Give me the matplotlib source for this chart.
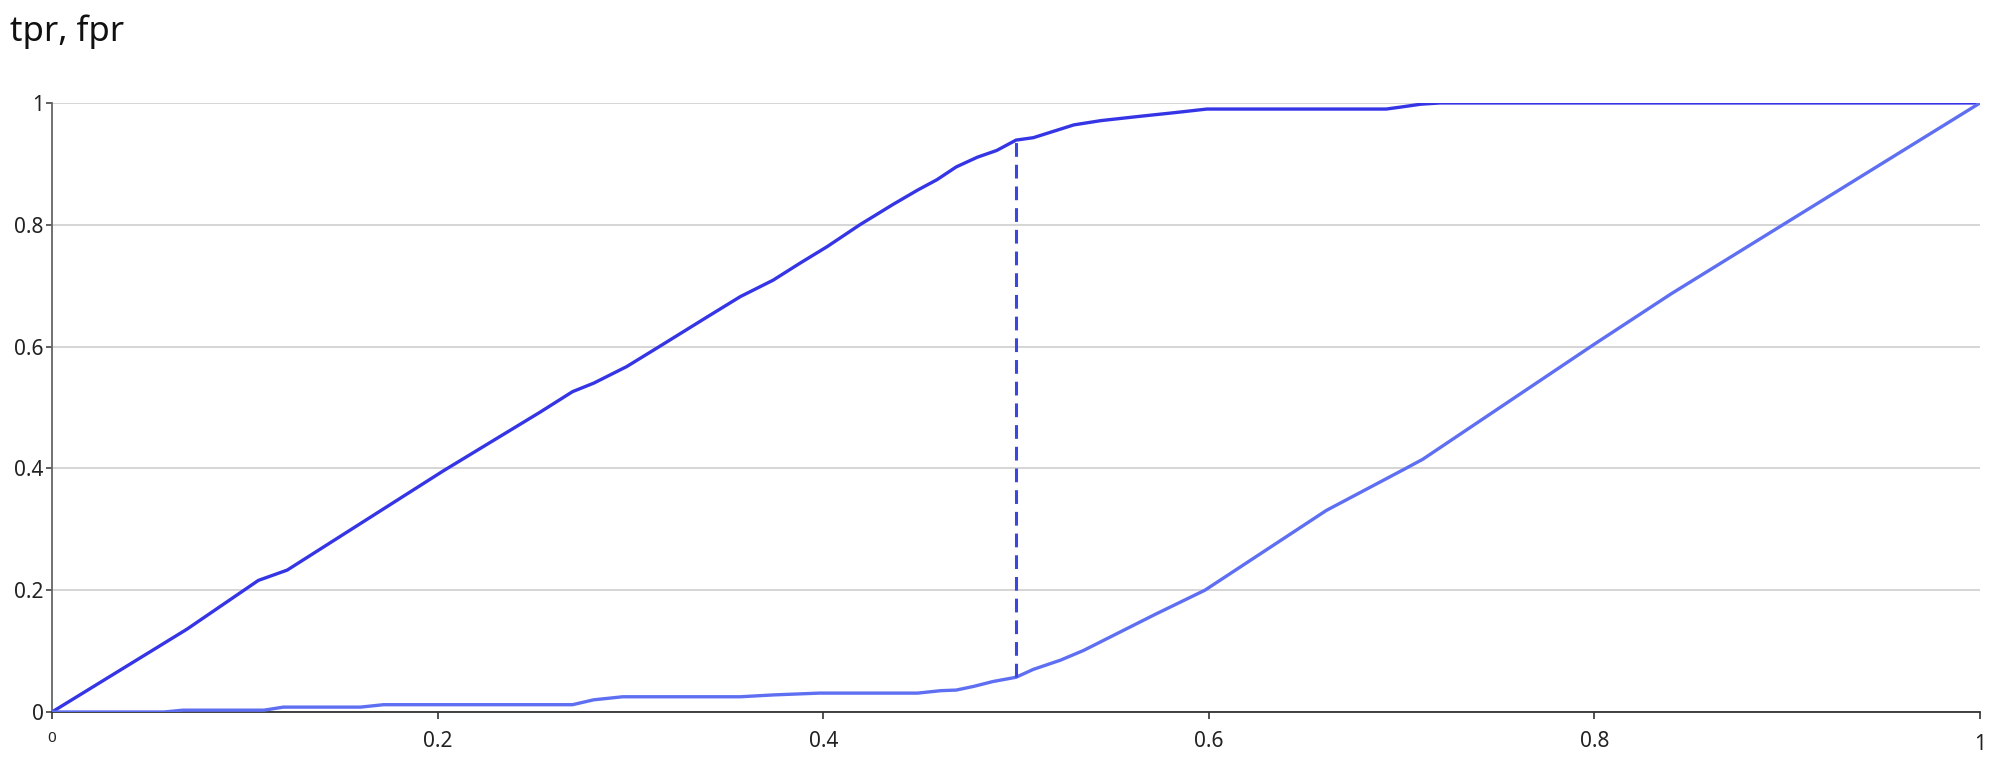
import numpy as np
import matplotlib
matplotlib.use("Agg")
import matplotlib.pyplot as plt

plt.rcParams['font.family'] = ['Noto Sans', 'DejaVu Sans']

# tpr curve
tpr_x = [0, 0.07, 0.107, 0.122, 0.203, 0.253, 0.270, 0.281, 0.298, 0.315,
         0.340, 0.357, 0.374, 0.388, 0.402, 0.419, 0.436, 0.449, 0.459, 0.469,
         0.480, 0.490, 0.500, 0.509, 0.530, 0.544, 0.564, 0.582, 0.599, 0.692,
         0.699, 0.710, 0.720, 1.0]
tpr_y = [0, 0.136, 0.216, 0.233, 0.396, 0.492, 0.526, 0.540, 0.567, 0.600,
         0.649, 0.682, 0.709, 0.737, 0.764, 0.800, 0.833, 0.857, 0.874, 0.895,
         0.911, 0.922, 0.939, 0.943, 0.964, 0.971, 0.978, 0.984, 0.990, 0.990,
         0.993, 0.998, 1.0, 1.0]

# fpr curve
fpr_x = [0, 0.058, 0.068, 0.110, 0.120, 0.160, 0.172, 0.270, 0.281, 0.296,
         0.357, 0.374, 0.398, 0.449, 0.461, 0.469, 0.478, 0.488, 0.500, 0.509,
         0.523, 0.535, 0.572, 0.598, 0.661, 0.701, 0.711, 0.800, 0.840, 1.0]
fpr_y = [0, 0, 0.003, 0.003, 0.008, 0.008, 0.012, 0.012, 0.020, 0.025,
         0.025, 0.028, 0.031, 0.031, 0.035, 0.036, 0.042, 0.050, 0.057, 0.070,
         0.085, 0.101, 0.160, 0.200, 0.331, 0.398, 0.415, 0.604, 0.687, 1.0]

# threshold where the gap (KS) is marked
ks_x = 0.5

x_ticks = [0, 0.2, 0.4, 0.6, 0.8, 1]
x_labels = ["0", "0.2", "0.4", "0.6", "0.8", "1"]
y_ticks = [0, 0.2, 0.4, 0.6, 0.8, 1]
y_labels = ["0", "0.2", "0.4", "0.6", "0.8", "1"]

tpr_color = "#3535e6"
fpr_color = "#5f6ff2"
dash_color = "#3b48e0"

fig = plt.figure(figsize=(20, 7.61), dpi=100)
ax = fig.add_axes([0.026, 0.0644, 0.964, 0.8003])

ax.plot(tpr_x, tpr_y, color=tpr_color, lw=2.4, solid_joinstyle="round", zorder=3)
ax.plot(fpr_x, fpr_y, color=fpr_color, lw=2.4, solid_joinstyle="round", zorder=3)

y_lo = np.interp(ks_x, fpr_x, fpr_y)
y_hi = np.interp(ks_x, tpr_x, tpr_y)
ax.plot([ks_x, ks_x], [y_lo, y_hi], color=dash_color, lw=2.2,
        dashes=(4.5, 2.6), zorder=3)

ax.set_xlim(0, 1)
ax.set_ylim(0, 1)
ax.set_xticks(x_ticks)
ax.set_xticklabels(x_labels)
ax.set_yticks(y_ticks)
ax.set_yticklabels(y_labels)

ax.grid(axis="y", color="#d2d2d2", lw=1.3, zorder=0)
ax.set_axisbelow(True)

for s in ["top", "right"]:
    ax.spines[s].set_visible(False)
ax.spines["left"].set_color("#666666")
ax.spines["left"].set_linewidth(1.3)
ax.spines["bottom"].set_color("#333333")
ax.spines["bottom"].set_linewidth(1.3)

ax.tick_params(axis="y", length=4, width=1.2, color="#444444", pad=2,
               labelsize=15, labelcolor="#222222")
ax.tick_params(axis="x", length=5, width=1.2, color="#333333", pad=9,
               labelsize=15, labelcolor="#222222")
xl = ax.get_xticklabels()
xl[0].set_fontsize(11)
xl[-1].set_y(-0.005)

fig.text(0.005, 0.946, "tpr, fpr", fontsize=25, color="#111111",
         ha="left", va="baseline")

fig.savefig("out.png", dpi=100, facecolor="white")
